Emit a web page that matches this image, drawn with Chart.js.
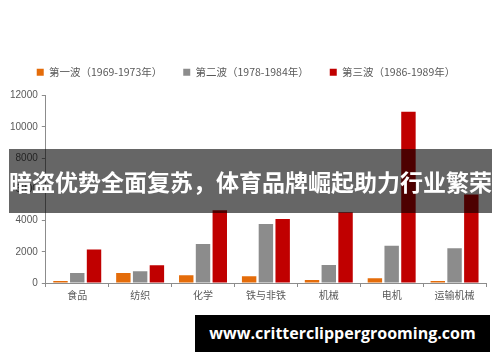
<!DOCTYPE html>
<html>
<head>
<meta charset="utf-8">
<script src="https://cdn.jsdelivr.net/npm/chart.js@4"></script>
<style>
  body { margin: 0; background: #fff; }
  #wrap { position: relative; width: 500px; height: 362px; overflow: hidden; }
  #banner {
    position: absolute; left: 9px; top: 149px; width: 483px; height: 64px;
    background: rgba(0,0,0,0.6); color: #fff;
    font: bold 23px "Noto Sans CJK SC", sans-serif;
    line-height: 64px; text-align: center; white-space: nowrap;
  }
  #mark {
    position: absolute; left: 195px; top: 315px; width: 295px; height: 37px;
    background: #000; color: #fff;
    font: bold 16px "Open Sans", sans-serif;
    line-height: 37px; text-align: center; white-space: nowrap;
  }
</style>
</head>
<body>
<div id="wrap">
  <canvas id="waveChart" width="500" height="362"></canvas>
  <div id="banner">暗盗优势全面复苏，体育品牌崛起助力行业繁荣</div>
  <div id="mark">www.critterclippergrooming.com</div>
</div>
<script>
const industries = ['食品', '纺织', '化学', '铁与非铁', '机械', '电机', '运输机械'];
const wave1 = [130, 640, 490, 430, 190, 300, 130];
const wave2 = [640, 750, 2490, 3770, 1150, 2380, 2230];
const wave3 = [2150, 1130, 4650, 4100, 4530, 10960, 5660];
const waveNames = ['第一波（1969-1973年）', '第二波（1978-1984年）', '第三波（1986-1989年）'];

// extra room under the legend
const legendGap = {
  id: 'legendGap',
  beforeInit(chart) {
    const fit = chart.legend.fit;
    chart.legend.fit = function () {
      fit.bind(chart.legend)();
      this.height += 8;
    };
  }
};

const ctx = document.getElementById('waveChart').getContext('2d');

new Chart(ctx, {
  type: 'bar',
  data: {
    labels: industries,
    datasets: [
      { label: waveNames[0], data: wave1, backgroundColor: '#E46C0A' },
      { label: waveNames[1], data: wave2, backgroundColor: '#8C8C8C' },
      { label: waveNames[2], data: wave3, backgroundColor: '#C00000' }
    ]
  },
  options: {
    responsive: false,
    animation: false,
    categoryPercentage: 0.8,
    barPercentage: 0.86,
    layout: { padding: { top: 46, left: 6, right: 14, bottom: 59 } },
    plugins: {
      tooltip: { enabled: false },
      legend: {
        labels: {
          boxWidth: 7,
          boxHeight: 7,
          padding: 21,
          color: '#595959',
          font: { family: '"Noto Sans CJK SC"', size: 10.5 }
        }
      }
    },
    scales: {
      x: {
        grid: { drawOnChartArea: false, tickLength: 4, color: '#8c8c8c' },
        border: { color: '#8c8c8c' },
        ticks: { color: '#595959', font: { family: '"Noto Sans CJK SC"', size: 10 }, padding: 2 }
      },
      y: {
        min: 0,
        max: 12000,
        ticks: {
          stepSize: 2000,
          color: '#595959',
          font: { family: '"Liberation Sans"', size: 10 },
          padding: 4,
          callback: v => String(v)
        },
        grid: { drawOnChartArea: false, tickLength: 4, color: '#8c8c8c' },
        border: { color: '#8c8c8c' }
      }
    }
  },
  plugins: [legendGap]
});
</script>
</body>
</html>
